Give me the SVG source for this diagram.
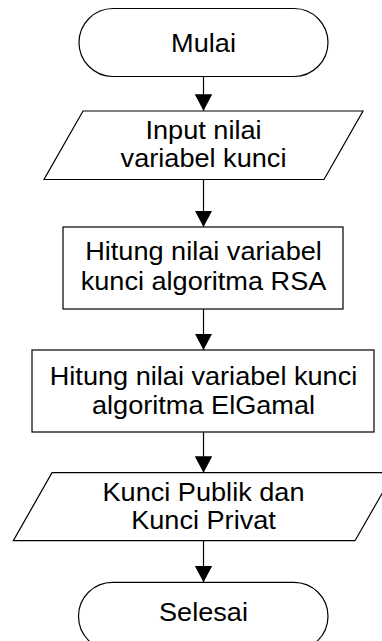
<svg xmlns="http://www.w3.org/2000/svg" width="382" height="641" viewBox="0 0 382 641">
  <style>
    .shape { fill: #fff; stroke: #000; stroke-width: 1.2; }
    .label { font-family: "Liberation Sans", Arial, sans-serif; font-size: 25px; fill: #000; text-anchor: middle; }
    .conn { stroke: #000; stroke-width: 1.2; fill: none; marker-end: url(#arrow); }
  </style>
  <defs>
    <marker id="arrow" markerUnits="userSpaceOnUse" markerWidth="17" markerHeight="18" refX="16.5" refY="8.75" orient="auto">
      <path d="M0,0 L16.5,8.75 L0,17.5 Z" fill="#000"/>
    </marker>
  </defs>
  <rect width="382" height="641" fill="#fff"/>

  <g id="connectors">
    <line class="conn" x1="203.5" y1="76.7" x2="203.5" y2="110.7"/>
    <line class="conn" x1="203.5" y1="179.5" x2="203.5" y2="227"/>
    <line class="conn" x1="203.5" y1="309" x2="203.5" y2="350"/>
    <line class="conn" x1="203.5" y1="432" x2="203.5" y2="472.7"/>
    <line class="conn" x1="203.5" y1="540.7" x2="203.5" y2="582.3"/>
  </g>

  <g id="start">
    <rect class="shape" x="79" y="8.5" width="249" height="68" rx="34" ry="34"/>
    <text class="label" transform="translate(203.5 0) scale(1.085 1)" x="0" y="52">Mulai</text>
  </g>

  <g id="input">
    <polygon class="shape" points="83,111 363,111 324,179.5 44,179.5"/>
    <text class="label" transform="translate(203.5 0) scale(1.085 1)" x="0" y="139.3">Input nilai</text>
    <text class="label" transform="translate(203.5 0) scale(1.085 1)" x="0" y="167.3">variabel kunci</text>
  </g>

  <g id="rsa">
    <rect class="shape" x="63" y="227" width="280" height="82"/>
    <text class="label" transform="translate(203.5 0) scale(1.085 1)" x="0" y="260">Hitung nilai variabel</text>
    <text class="label" transform="translate(203.5 0) scale(1.085 1)" x="0" y="290">kunci algoritma RSA</text>
  </g>

  <g id="elgamal">
    <rect class="shape" x="32" y="350" width="342" height="82"/>
    <text class="label" transform="translate(203.5 0) scale(1.085 1)" x="0" y="385">Hitung nilai variabel kunci</text>
    <text class="label" transform="translate(203.5 0) scale(1.085 1)" x="0" y="414">algoritma ElGamal</text>
  </g>

  <g id="output">
    <polygon class="shape" points="52,472.7 394,472.7 355,540.7 13.3,540.7"/>
    <text class="label" transform="translate(203.5 0) scale(1.085 1)" x="0" y="501">Kunci Publik dan</text>
    <text class="label" transform="translate(203.5 0) scale(1.085 1)" x="0" y="529">Kunci Privat</text>
  </g>

  <g id="end">
    <rect class="shape" x="78.5" y="582.3" width="249.5" height="68" rx="34" ry="34"/>
    <text class="label" transform="translate(203.5 0) scale(1.085 1)" x="0" y="621">Selesai</text>
  </g>
</svg>
